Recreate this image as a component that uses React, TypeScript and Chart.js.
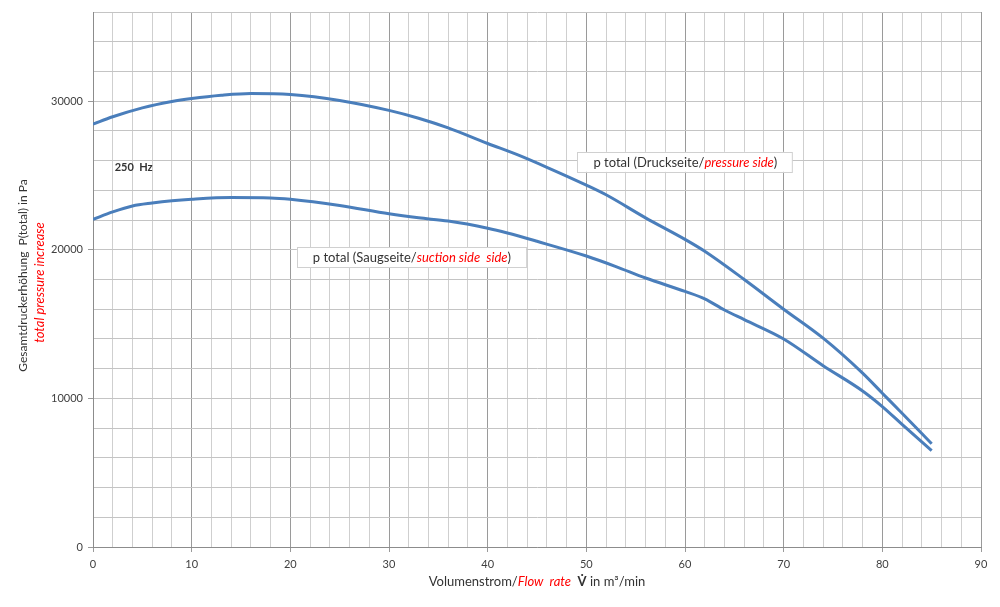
import React, { useEffect, useRef } from "react";
import { Chart, registerables } from "chart.js";

Chart.register(...registerables);

// Druckseite (pressure side) curve
const pressureX = [0, 2, 5, 8, 10, 13, 16, 20, 25, 30, 33, 36, 40, 43, 46, 50, 52, 56, 60, 62, 66, 70, 74, 78, 80, 82, 85];
const pressureY = [28450, 28950, 29550, 29980, 30180, 30400, 30520, 30450, 30050, 29380, 28850, 28200, 27150, 26400, 25550, 24350, 23700, 22150, 20700, 19900, 18000, 16000, 14050, 11700, 10350, 9000, 6950];

// Saugseite (suction side) curve
const suctionX = [0, 2, 4, 6, 8, 10, 14, 18, 20, 25, 30, 33, 36, 40, 42, 45, 50, 53, 56, 60, 62, 64, 66, 70, 74, 78, 80, 82, 85];
const suctionY = [22050, 22550, 22950, 23150, 23300, 23400, 23510, 23490, 23400, 22980, 22420, 22150, 21930, 21450, 21130, 20570, 19580, 18870, 18100, 17200, 16700, 15950, 15300, 14000, 12200, 10500, 9450, 8250, 6480];

const xTickLabels = [0, 10, 20, 30, 40, 50, 60, 70, 80, 90];
const yTickLabels = [0, 10000, 20000, 30000];

const FONT = "Lato, 'Open Sans', sans-serif";
const LINE_COLOR = "#4a7ebb";
const RED = "#ff0000";
const TXT = "#333333";

type Seg = { t: string; color?: string; italic?: boolean; bold?: boolean };

const labelPressure: Seg[] = [
  { t: "p total (Druckseite/" },
  { t: "pressure side", color: RED, italic: true },
  { t: ")" },
];
const labelSuction: Seg[] = [
  { t: "p total (Saugseite/" },
  { t: "suction side  side", color: RED, italic: true },
  { t: ")" },
];
const labelFreq: Seg[] = [{ t: "250  Hz", bold: true }];
const yTitle1: Seg[] = [{ t: "Gesamtdruckerhöhung  P(total) in Pa" }];
const yTitle2: Seg[] = [{ t: "total pressure increase", color: RED, italic: true }];
const xTitle: Seg[] = [
  { t: "Volumenstrom/" },
  { t: "Flow  rate", color: RED, italic: true },
  { t: "  " },
  { t: "V\u0307", bold: true },
  { t: " in m³/min" },
];

// annotation anchors in data units (x, y = top-left of box)
const boxPressureAt = { x: 49.1, y: 26590 };
const boxSuctionAt = { x: 20.66, y: 20180 };
const freqAt = { x: 2.2, y: 25560 };

function fontOf(s: Seg, size: number) {
  return `${s.italic ? "italic " : ""}${s.bold ? "bold " : ""}${size}px ${FONT}`;
}
function measure(ctx: CanvasRenderingContext2D, segs: Seg[], size: number) {
  let w = 0;
  for (const s of segs) {
    ctx.font = fontOf(s, size);
    w += ctx.measureText(s.t).width;
  }
  return w;
}
function drawRich(ctx: CanvasRenderingContext2D, segs: Seg[], x: number, y: number, size: number, align: "left" | "center") {
  const w = measure(ctx, segs, size);
  let cx = align === "center" ? x - w / 2 : x;
  ctx.textBaseline = "middle";
  ctx.textAlign = "left";
  for (const s of segs) {
    ctx.font = fontOf(s, size);
    ctx.fillStyle = s.color || TXT;
    ctx.fillText(s.t, cx, y);
    cx += ctx.measureText(s.t).width;
  }
}

const textPlugin = {
  id: "richText",
  afterDraw(chart: any) {
    const ctx: CanvasRenderingContext2D = chart.ctx;
    const xs = chart.scales.x;
    const ys = chart.scales.y;
    const area = chart.chartArea;
    ctx.save();
    const size = 13;
    for (const [segs, at] of [
      [labelPressure, boxPressureAt],
      [labelSuction, boxSuctionAt],
    ] as [Seg[], { x: number; y: number }][]) {
      const bx = xs.getPixelForValue(at.x);
      const by = ys.getPixelForValue(at.y);
      const w = measure(ctx, segs, size) + 31;
      const h = 20;
      ctx.fillStyle = "#ffffff";
      ctx.fillRect(bx, by, w, h);
      ctx.strokeStyle = "#d0d0d0";
      ctx.lineWidth = 1;
      ctx.strokeRect(Math.round(bx) + 0.5, Math.round(by) + 0.5, w, h);
      drawRich(ctx, segs, bx + 16, by + h / 2 + 0.5, size, "left");
    }
    drawRich(ctx, labelFreq, xs.getPixelForValue(freqAt.x), ys.getPixelForValue(freqAt.y), 11, "left");
    const midY = (area.top + area.bottom) / 2;
    ctx.save();
    ctx.translate(23, midY - 4);
    ctx.rotate(-Math.PI / 2);
    drawRich(ctx, yTitle1, 0, 0, 12, "center");
    ctx.restore();
    ctx.save();
    ctx.translate(40, midY + 3);
    ctx.rotate(-Math.PI / 2);
    drawRich(ctx, yTitle2, 0, 0, 13, "center");
    ctx.restore();
    drawRich(ctx, xTitle, 537, area.bottom + 35, 13, "center");
    ctx.restore();
  },
};

export default function App() {
  const ref = useRef<HTMLCanvasElement>(null);
  useEffect(() => {
    document.body.style.margin = "0";
    const canvas = ref.current!;
    const chart = new Chart(canvas, {
      type: "line",
      data: {
        datasets: [
          {
            label: "p total (Druckseite)",
            data: pressureX.map((x, i) => ({ x, y: pressureY[i] })),
            borderColor: LINE_COLOR,
            borderWidth: 3,
            pointRadius: 0,
            tension: 0.4,
            cubicInterpolationMode: "monotone",
          },
          {
            label: "p total (Saugseite)",
            data: suctionX.map((x, i) => ({ x, y: suctionY[i] })),
            borderColor: LINE_COLOR,
            borderWidth: 3,
            pointRadius: 0,
            tension: 0.4,
            cubicInterpolationMode: "monotone",
          },
        ],
      },
      options: {
        responsive: false,
        devicePixelRatio: 1,
        animation: false,
        layout: { padding: { top: 12, right: 19, left: 0, bottom: 0 } },
        plugins: { legend: { display: false }, tooltip: { enabled: false } },
        scales: {
          x: {
            type: "linear",
            min: 0,
            max: 90,
            afterFit: (s: any) => {
              s.height = 60;
            },
            ticks: {
              stepSize: 2,
              autoSkip: false,
              maxRotation: 0,
              padding: 6,
              color: "#404040",
              font: { family: FONT, size: 11 },
              callback: (v: any) => (xTickLabels.includes(Number(v)) ? String(v) : ""),
            },
            grid: {
              color: (c: any) => (c.tick && c.tick.value % 10 === 0 ? "#9a9a9a" : "#cfcfcf"),
              tickColor: (c: any) => (c.tick && c.tick.value % 10 === 0 ? "#9a9a9a" : "rgba(0,0,0,0)"),
              tickLength: 5,
            },
            border: { color: "#8c8c8c" },
          },
          y: {
            type: "linear",
            min: 0,
            max: 36000,
            afterFit: (s: any) => {
              s.width = 93;
            },
            ticks: {
              stepSize: 2000,
              autoSkip: false,
              padding: 5,
              color: "#404040",
              font: { family: FONT, size: 11 },
              callback: (v: any) => (yTickLabels.includes(Number(v)) ? String(v) : ""),
            },
            grid: {
              color: "#c4c4c4",
              tickColor: (c: any) => (c.tick && c.tick.value % 10000 === 0 ? "#9a9a9a" : "rgba(0,0,0,0)"),
              tickLength: 5,
            },
            border: { color: "#8c8c8c" },
          },
        },
      },
      plugins: [textPlugin],
    } as any);
    return () => chart.destroy();
  }, []);
  return (
    <div style={{ position: "absolute", left: 0, top: 0, width: 1000, height: 607, background: "#fff" }}>
      <canvas ref={ref} width={1000} height={607} style={{ width: 1000, height: 607 }} />
    </div>
  );
}
